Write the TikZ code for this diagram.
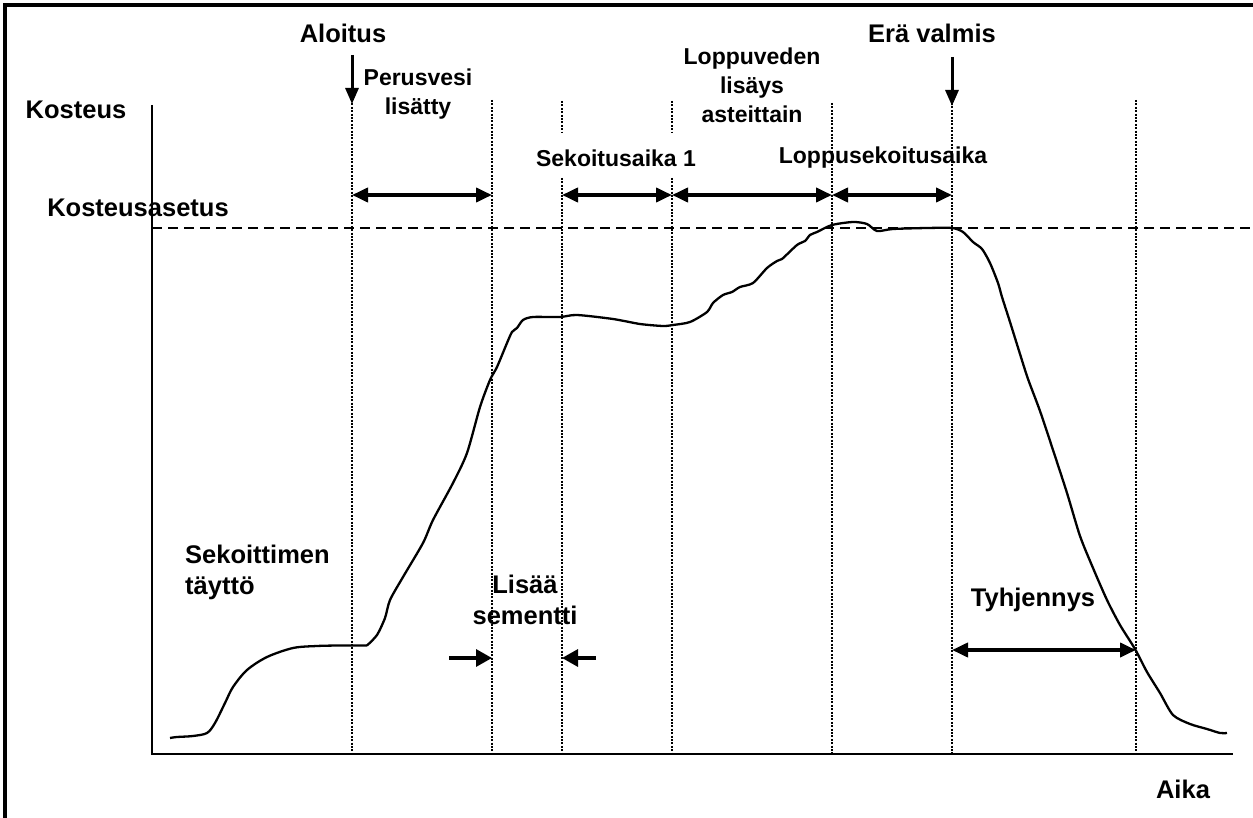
\documentclass[tikz,border=0pt]{standalone}
\usepackage{fontspec}
\setmainfont{Liberation Sans}
\usetikzlibrary{arrows.meta}
\tikzset{
  lbl/.style={font=\fontsize{23}{29}\selectfont\bfseries, inner sep=0pt, align=center},
  biglbl/.style={font=\fontsize{25.5}{31}\selectfont\bfseries, inner sep=0pt, align=center},
  axisline/.style={line width=2.8pt},
  guide/.style={line width=2.5pt, dash pattern=on 2pt off 1.4pt},
  setline/.style={line width=2.8pt, dash pattern=on 10pt off 6pt},
  span/.style={line width=3.8pt, {Triangle[length=16pt,width=14pt]}-{Triangle[length=16pt,width=14pt]}},
  pointer/.style={line width=3.2pt, -{Triangle[length=16pt,width=17pt]}},
  downarrow/.style={line width=3pt, -{Triangle[length=16pt,width=13pt]}},
  curve/.style={line width=2.3pt, line join=round}
}
\begin{document}
\begin{tikzpicture}[x=1pt,y=-1pt]
\useasboundingbox (0,0) rectangle (1253,818);
% frame (left and top edges visible)
\draw[line width=3.8pt] (5,818) -- (5,5) -- (1253,5);

% axes
\coordinate (ytop) at (152,105);
\coordinate (orig) at (152,754);
\coordinate (xend) at (1233,754);
\draw[axisline] (ytop) -- (orig) -- (xend);

% setpoint dashed line
\coordinate (setL) at (152,228);
\coordinate (setR) at (1253,228);
\draw[setline] (setL) -- (setR);

% vertical guide lines
\foreach \n/\x/\t in {a/352/100, b/492/100, e/832/103, f/952/103, g/1136/100}{
  \coordinate (\n top) at (\x,\t);
  \coordinate (\n bot) at (\x,754);
  \draw[guide] (\n top) -- (\n bot);
}
\foreach \n/\x in {c/562, d/672}{
  \coordinate (\n top) at (\x,101);
  \coordinate (\n gap1) at (\x,132);
  \coordinate (\n gap2) at (\x,178);
  \coordinate (\n bot) at (\x,754);
  \draw[guide] (\n top) -- (\n gap1);
  \draw[guide] (\n gap2) -- (\n bot);
}

% span arrows
\coordinate (s1) at (352,195);
\coordinate (s2) at (492,195);
\coordinate (s3) at (562,195);
\coordinate (s4) at (672,195);
\coordinate (s5) at (832,195);
\coordinate (s6) at (952,195);
\draw[span] (s1) -- (s2);
\draw[span] (s3) -- (s4);
\draw[span] (s4) -- (s5);
\draw[span] (s5) -- (s6);
\coordinate (t1) at (952,650);
\coordinate (t2) at (1136,650);
\draw[span] (t1) -- (t2);

% cement pointers
\coordinate (p1) at (449,658);
\coordinate (p2) at (492,658);
\coordinate (p3) at (596,658);
\coordinate (p4) at (562,658);
\draw[pointer] (p1) -- (p2);
\draw[pointer] (p3) -- (p4);

% down arrows
\coordinate (d1) at (352,55);
\coordinate (d2) at (352,104);
\coordinate (d3) at (952,57);
\coordinate (d4) at (952,106);
\draw[downarrow] (d1) -- (d2);
\draw[downarrow] (d3) -- (d4);

% labels
\node[biglbl] (aloitus) at (343,33) {Aloitus};
\node[biglbl] (era) at (932,33) {Erä valmis};
\node[biglbl] (kosteus) at (76,110) {Kosteus};
\node[biglbl] (asetus) at (138,208) {Kosteusasetus};
\node[lbl] (perus) at (418,94) {Perusvesi\\lisätty};
\node[lbl] (loppuvesi) at (752,85) {Loppuveden\\lisäys\\asteittain};
\node[lbl] (sek1) at (616,158) {Sekoitusaika 1};
\node[lbl] (loppusek) at (883,158) {Loppusekoitusaika};
\node[biglbl, align=left, anchor=west] (tayt) at (185,572) {Sekoittimen\\täyttö};
\node[biglbl] (sement) at (525,600) {Lisää\\sementti};
\node[biglbl] (tyhj) at (1033,600) {Tyhjennys};
\node[biglbl] (aika) at (1183,789) {Aika};

% moisture curve
\draw[curve] plot[smooth, tension=0.5] coordinates {
 (170,738) (177,737) (193,736) (207,733) (215,723) (225,703) (233,687)
 (247,670) (267,657) (293,648) (317,646) (340,645.5) (367,645.5)};
\draw[curve] plot[smooth, tension=0.45] coordinates {
 (367,645.5) (377,635) (385,618) (390,600) (403,577) (423,543) (433,520)
 (453,483) (467,453) (480,407) (490,380) (497,367) (507,343) (512,332)
 (517,328) (523,320) (533,317) (560,317) (577,315) (613,319) (640,324)
 (663,326) (673,325) (690,322) (707,312) (713,303) (723,295) (732,292)
 (740,287) (753,283) (767,268) (777,261) (782,259) (797,245) (805,241)
 (810,235) (817,232) (832,225) (853,222) (867,224) (877,231) (893,229)
 (927,228) (952,228) (963,232) (973,242) (982,249) (990,263) (998,283)
 (1002,297) (1010,322) (1020,354) (1028,379) (1040,411) (1053,450)
 (1067,493) (1080,536) (1093,568) (1107,600) (1120,625) (1135,649)
 (1147,672) (1160,693) (1173,715) (1190,724) (1207,729) (1220,733) (1227,733)};
\end{tikzpicture}
\end{document}
